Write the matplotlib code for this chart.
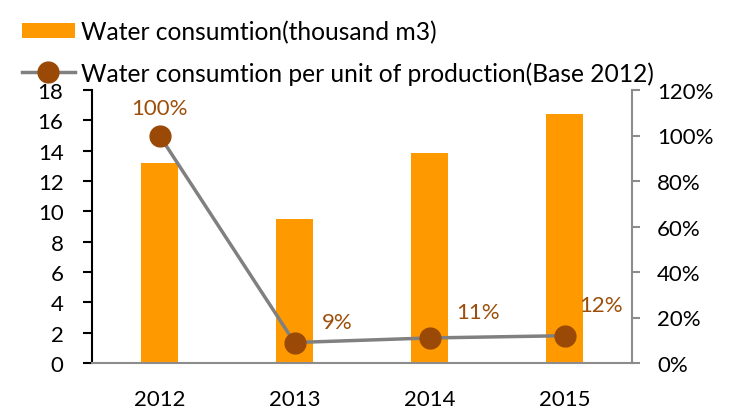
import matplotlib
matplotlib.use("Agg")
import matplotlib.pyplot as plt
from matplotlib.ticker import PercentFormatter, FixedLocator

years = ["2012", "2013", "2014", "2015"]
water = [13.2, 9.5, 13.85, 16.4]
per_unit = [1.00, 0.09, 0.11, 0.12]
per_unit_labels = ["100%", "9%", "11%", "12%"]

bar_label = "Water consumtion(thousand m3)"
line_label = "Water consumtion per unit of production(Base 2012)"

plt.rcParams['font.family'] = ['Lato', 'DejaVu Sans']
FS = 16
LFS = 17.7

fig = plt.figure(figsize=(7.45, 4.14), dpi=100)
ax = fig.add_axes([92/745, 1-364/414, 540/745, 273/414])
x = list(range(len(years)))
bars = ax.bar(x, water, width=0.27, color="#FF9900", zorder=2, label=bar_label)
ax.set_xlim(-0.5, 3.5)
ax.set_ylim(0, 18)
ax.yaxis.set_major_locator(FixedLocator(range(0, 19, 2)))
ax.set_xticks(x)
ax.set_xticklabels(years)
ax.tick_params(axis='x', length=0, labelsize=FS, pad=19)
ax.tick_params(axis='y', direction='out', length=6.5, width=1.5, color='black', labelsize=FS, pad=14)
for s in ['top', 'right']:
    ax.spines[s].set_visible(False)
ax.spines['left'].set_linewidth(1.5)
ax.spines['left'].set_color('black')
ax.spines['bottom'].set_color('#8c8c8c')
ax.spines['bottom'].set_linewidth(1.5)

ax2 = ax.twinx()
line, = ax2.plot(x, per_unit, color='#808080', lw=2.5, marker='o', markersize=15,
                 markerfacecolor='#9A4A06', markeredgecolor='#9A4A06', zorder=3, label=line_label)
ax2.set_ylim(0, 1.2)
ax2.yaxis.set_major_locator(FixedLocator([0, 0.2, 0.4, 0.6, 0.8, 1.0, 1.2]))
ax2.yaxis.set_major_formatter(PercentFormatter(1.0, decimals=0))
ax2.tick_params(axis='y', direction='out', length=6, width=1.5, color='#8c8c8c', labelsize=FS, pad=12)
for s in ['top', 'left', 'bottom']:
    ax2.spines[s].set_visible(False)
ax2.spines['right'].set_color('#8c8c8c')
ax2.spines['right'].set_linewidth(1.5)

offsets = [(0, 20), (31, 15), (35, 19), (26, 22)]
for xi, v, lab, off in zip(x, per_unit, per_unit_labels, offsets):
    ax2.annotate(lab, (xi, v), xytext=off, textcoords='offset points',
                 ha='center', va='center', color='#9C4F0B', fontsize=FS)

fig.legend([bars, line], [bar_label, line_label], loc='upper left',
           bbox_to_anchor=(22/745, 1-21/414), frameon=False, fontsize=LFS,
           handlelength=2.15, handleheight=0.6, handletextpad=0.25, labelspacing=0.72,
           borderaxespad=0, borderpad=0)

fig.savefig("out.png", dpi=100)
